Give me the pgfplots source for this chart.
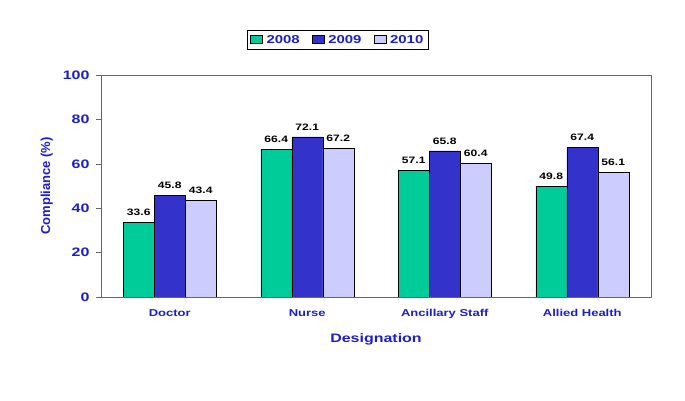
\documentclass[border=0pt]{standalone}
\usepackage{pgfplots}
\pgfplotsset{compat=1.18}
\usepackage{fontspec}
\setmainfont{Liberation Sans}[FakeStretch=1.3]
\newfontfamily\plainarial{Liberation Sans}
\definecolor{cgreen}{RGB}{0,204,153}
\definecolor{cblue}{RGB}{51,51,204}
\definecolor{clav}{RGB}{204,204,255}
\definecolor{ctext}{RGB}{30,30,200}
\begin{document}
\begin{tikzpicture}[x=1pt,y=1pt]
\path (0,0) rectangle (685,401);
\begin{axis}[
  at={(101pt,104pt)}, anchor=south west,
  width=550pt, height=222pt, scale only axis,
  ybar=0pt, bar width=31pt,
  xmin=-0.5, xmax=3.5, ymin=0, ymax=100,
  xtick={0,1,2,3},
  xticklabels={Doctor,Nurse,Ancillary Staff,Allied Health},
  ytick={0,20,40,60,80,100},
  extra x ticks={-0.5,0.5,1.5,2.5,3.5},
  extra x tick labels={},
  extra x tick style={major tick length=5pt, tick style={gray!80!black}},
  x tick style={draw=none},
  y tick style={gray!80!black},
  major tick length=5pt,
  tick align=outside,
  xtick pos=bottom, ytick pos=left,
  axis line style={gray!80!black, line width=0.8pt},
  /pgf/number format/assume math mode=true,
  tick label style={font=\fontsize{12.3}{14}\selectfont\bfseries, text=ctext},
  yticklabel style={xshift=-3pt},
  xticklabel style={yshift=-4pt, font=\fontsize{10}{12}\selectfont\bfseries},
  xlabel={Designation},
  ylabel={{\plainarial\bfseries Compliance (\%)}},
  label style={font=\fontsize{12.3}{14}\selectfont\bfseries, text=ctext},
  xlabel style={yshift=2pt},
  ylabel style={yshift=3pt, font=\fontsize{13}{14}\selectfont\bfseries},
  nodes near coords,
  nodes near coords style={font=\fontsize{9.3}{11}\selectfont\bfseries, text=black, yshift=3pt},
  every node near coord/.append style={/pgf/number format/.cd, fixed, fixed zerofill, precision=1},
  legend columns=-1,
  legend style={at={(0.265,1.203)}, anchor=north west, draw=black, line width=0.6pt,
    font=\fontsize{11.5}{13}\selectfont\bfseries, text=ctext,
    /tikz/every even column/.append style={column sep=10pt},
    /tikz/every odd column/.append style={column sep=2pt},
    inner xsep=3pt, inner ysep=3pt},
  legend image code/.code={\draw[#1, draw=black, line width=0.5pt] (0pt,-3.5pt) rectangle (12pt,4.5pt);},
]
\addplot[fill=cgreen, draw=black, line width=0.5pt] coordinates {(0,33.6) (1,66.4) (2,57.1) (3,49.8)};
\addplot[fill=cblue, draw=black, line width=0.5pt] coordinates {(0,45.8) (1,72.1) (2,65.8) (3,67.4)};
\addplot[fill=clav, draw=black, line width=0.5pt] coordinates {(0,43.4) (1,67.2) (2,60.4) (3,56.1)};
\legend{2008,2009,2010}
\end{axis}
\end{tikzpicture}
\end{document}
